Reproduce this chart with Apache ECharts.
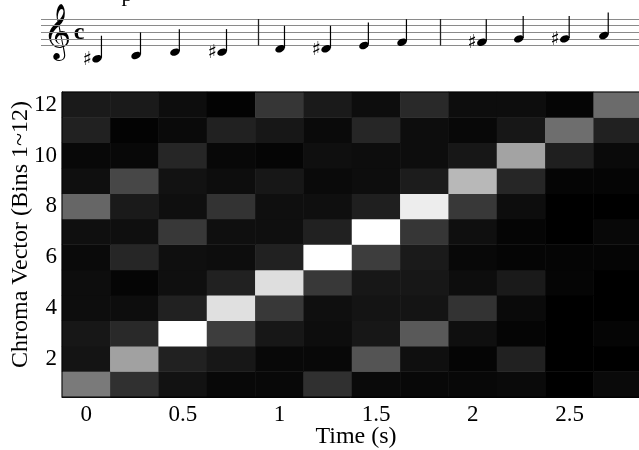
<!DOCTYPE html>
<html>
<head>
<meta charset="utf-8">
<script src="https://cdn.jsdelivr.net/npm/echarts@6/dist/echarts.min.js"></script>
<style>html,body{margin:0;padding:0;background:#fff;}#c{width:639px;height:450px;}</style>
</head>
<body>
<div id="c"></div>
<script>
// ---- data ----
const times = ['0','0.25','0.5','0.75','1','1.25','1.5','1.75','2','2.25','2.5','2.75'];
const bins = ['1','2','3','4','5','6','7','8','9','10','11','12'];
// chroma energy, one row per bin (bin 1 first), one value per time frame
const bin1  = [0.48,0.19,0.07,0.03,0.03,0.19,0.04,0.03,0.03,0.04,0.00,0.04];
const bin2  = [0.08,0.63,0.13,0.09,0.03,0.03,0.33,0.06,0.02,0.13,0.00,0.00];
const bin3  = [0.09,0.16,1.00,0.24,0.09,0.05,0.09,0.35,0.06,0.02,0.00,0.02];
const bin4  = [0.05,0.05,0.13,0.88,0.22,0.06,0.08,0.08,0.20,0.04,0.00,0.00];
const bin5  = [0.05,0.02,0.06,0.13,0.87,0.22,0.09,0.09,0.05,0.10,0.02,0.00];
const bin6  = [0.04,0.15,0.06,0.05,0.13,1.00,0.24,0.10,0.03,0.02,0.02,0.02];
const bin7  = [0.06,0.06,0.22,0.06,0.06,0.13,1.00,0.21,0.06,0.02,0.00,0.03];
const bin8  = [0.40,0.10,0.06,0.20,0.06,0.06,0.12,0.93,0.22,0.05,0.00,0.00];
const bin9  = [0.06,0.28,0.07,0.05,0.09,0.04,0.05,0.11,0.72,0.15,0.02,0.02];
const bin10 = [0.03,0.03,0.15,0.03,0.02,0.06,0.05,0.05,0.09,0.64,0.12,0.04];
const bin11 = [0.13,0.01,0.04,0.13,0.09,0.04,0.15,0.05,0.03,0.09,0.43,0.13];
const bin12 = [0.10,0.10,0.05,0.01,0.21,0.10,0.05,0.16,0.05,0.05,0.02,0.42];
const chroma = [bin1,bin2,bin3,bin4,bin5,bin6,bin7,bin8,bin9,bin10,bin11,bin12];

// score: chromatic scale A#3 .. A4
const noteNames = ['A#3','B3','C4','C#4','D4','D#4','E4','F4','F#4','G4','G#4','A4'];
const noteTimes = [0.056,0.258,0.459,0.703,1.003,1.241,1.437,1.634,2.047,2.238,2.476,2.678];
const noteSteps = [-4,-3,-2,-2,-1,-1,0,1,1,2,2,3]; // diatonic steps above E4 (bottom staff line)
const noteSharp = [1,0,0,1,0,1,0,0,1,0,1,0];
const barTimes = [0.894, 1.833];

// ---- build ----
const heatData = [];
chroma.forEach((row, b) => row.forEach((v, t) => heatData.push([t, b, v])));
const noteData = noteTimes.map((t, i) => [t, noteSteps[i], noteSharp[i]]);

const FONT = 'Liberation Serif';
const evenIdx = (i) => i % 2 === 1;
const labelStyle = { fontFamily: FONT, fontSize: 23, color: '#000' };

const chart = echarts.init(document.getElementById('c'), null, { renderer: 'canvas' });
chart.setOption({
  animation: false,
  backgroundColor: '#fff',
  grid: [
    { left: 62, top: 92, width: 580, height: 305, show: true, borderColor: '#000', borderWidth: 1,
      backgroundColor: 'transparent', z: 10, containLabel: false, outerBoundsMode: 'none' },
    { left: 41, right: 0, top: 19, height: 26.5, containLabel: false, outerBoundsMode: 'none' }
  ],
  xAxis: [
    { type: 'category', gridIndex: 0, data: times, position: 'bottom',
      axisLine: { show: true, lineStyle: { color: '#000', width: 1 } },
      axisTick: { show: true, inside: true, alignWithLabel: true, interval: 1, length: 5, lineStyle: { color: '#000' } },
      axisLabel: Object.assign({ interval: 1, margin: 6 }, labelStyle),
      splitLine: { show: false },
      name: 'Time (s)', nameLocation: 'middle', nameGap: 28, nameMoveOverlap: false,
      nameTextStyle: { fontFamily: FONT, fontSize: 24, color: '#000', verticalAlign: 'top', padding: [0, 0, 0, 8] } },
    { type: 'category', gridIndex: 0, data: times, position: 'top',
      axisLine: { show: false },
      axisTick: { show: true, inside: true, alignWithLabel: true, interval: 1, length: 5, lineStyle: { color: '#000' } },
      axisLabel: { show: false }, splitLine: { show: false } },
    { type: 'value', gridIndex: 1, min: -0.234, max: 2.86, show: false }
  ],
  yAxis: [
    { type: 'category', gridIndex: 0, data: bins, position: 'left',
      axisLine: { show: true, lineStyle: { color: '#000', width: 1 } },
      axisTick: { show: true, inside: true, alignWithLabel: true, interval: evenIdx, length: 5, lineStyle: { color: '#000' } },
      axisLabel: Object.assign({ interval: evenIdx, margin: 5 }, labelStyle),
      splitLine: { show: false },
      name: 'Chroma Vector (Bins 1~12)', nameLocation: 'middle', nameGap: 29, nameRotate: 90, nameMoveOverlap: false,
      nameTextStyle: { fontFamily: FONT, fontSize: 24, color: '#000', padding: [0, 0, 0, 20] } },
    { type: 'category', gridIndex: 0, data: bins, position: 'right',
      axisLine: { show: false },
      axisTick: { show: true, inside: true, alignWithLabel: true, interval: evenIdx, length: 5, lineStyle: { color: '#000' } },
      axisLabel: { show: false }, splitLine: { show: false } },
    { type: 'value', gridIndex: 1, min: 0, max: 8, interval: 2,
      axisLine: { show: false }, axisTick: { show: false }, axisLabel: { show: false },
      splitLine: { show: true, lineStyle: { color: '#8a8a8a', width: 1 } } }
  ],
  visualMap: {
    show: false, type: 'continuous', min: 0, max: 1, seriesIndex: 0,
    inRange: { color: ['#000000', '#ffffff'] }
  },
  series: [
    { type: 'heatmap', xAxisIndex: 0, yAxisIndex: 0, data: heatData,
      itemStyle: { borderWidth: 0 }, emphasis: { disabled: true }, progressive: 0 },
    { type: 'custom', xAxisIndex: 2, yAxisIndex: 2, data: noteData, clip: false, silent: true,
      renderItem: function (params, api) {
        const c = api.coord([api.value(0), api.value(1)]);
        const children = [
          { type: 'ellipse', x: c[0], y: c[1], rotation: 0.4,
            shape: { cx: 0, cy: 0, rx: 5, ry: 3.4 }, style: { fill: '#000' } },
          { type: 'line', shape: { x1: c[0] + 4.4, y1: c[1] - 1, x2: c[0] + 4.4, y2: c[1] - 23 },
            style: { stroke: '#000', lineWidth: 1.2 } }
        ];
        if (api.value(2)) {
          children.push({ type: 'text', x: c[0] - 10, y: c[1] + 1,
            style: { text: '\u266F', font: '19px "DejaVu Sans"', fill: '#000', align: 'center', verticalAlign: 'middle' } });
        }
        return { type: 'group', children: children };
      },
      markLine: { silent: true, symbol: 'none', label: { show: false },
        lineStyle: { color: '#222', width: 1.3, type: 'solid' },
        data: barTimes.map(t => ({ xAxis: t })) }
    }
  ],
  graphic: [
    { type: 'text', x: 57, y: 35, style: { text: '\uD834\uDD1E', font: '48px "DejaVu Sans"', fill: '#000', align: 'center', verticalAlign: 'middle' } },
    { type: 'text', x: 79, y: 32.5, style: { text: 'c', font: 'bold 24px "Liberation Serif"', fill: '#000', align: 'center', verticalAlign: 'middle' } },
    { type: 'text', x: 127, y: 6, style: { text: 'p', font: '22px "Liberation Serif"', fill: '#000', align: 'center', verticalAlign: 'bottom' } }
  ]
});
</script>
</body>
</html>
